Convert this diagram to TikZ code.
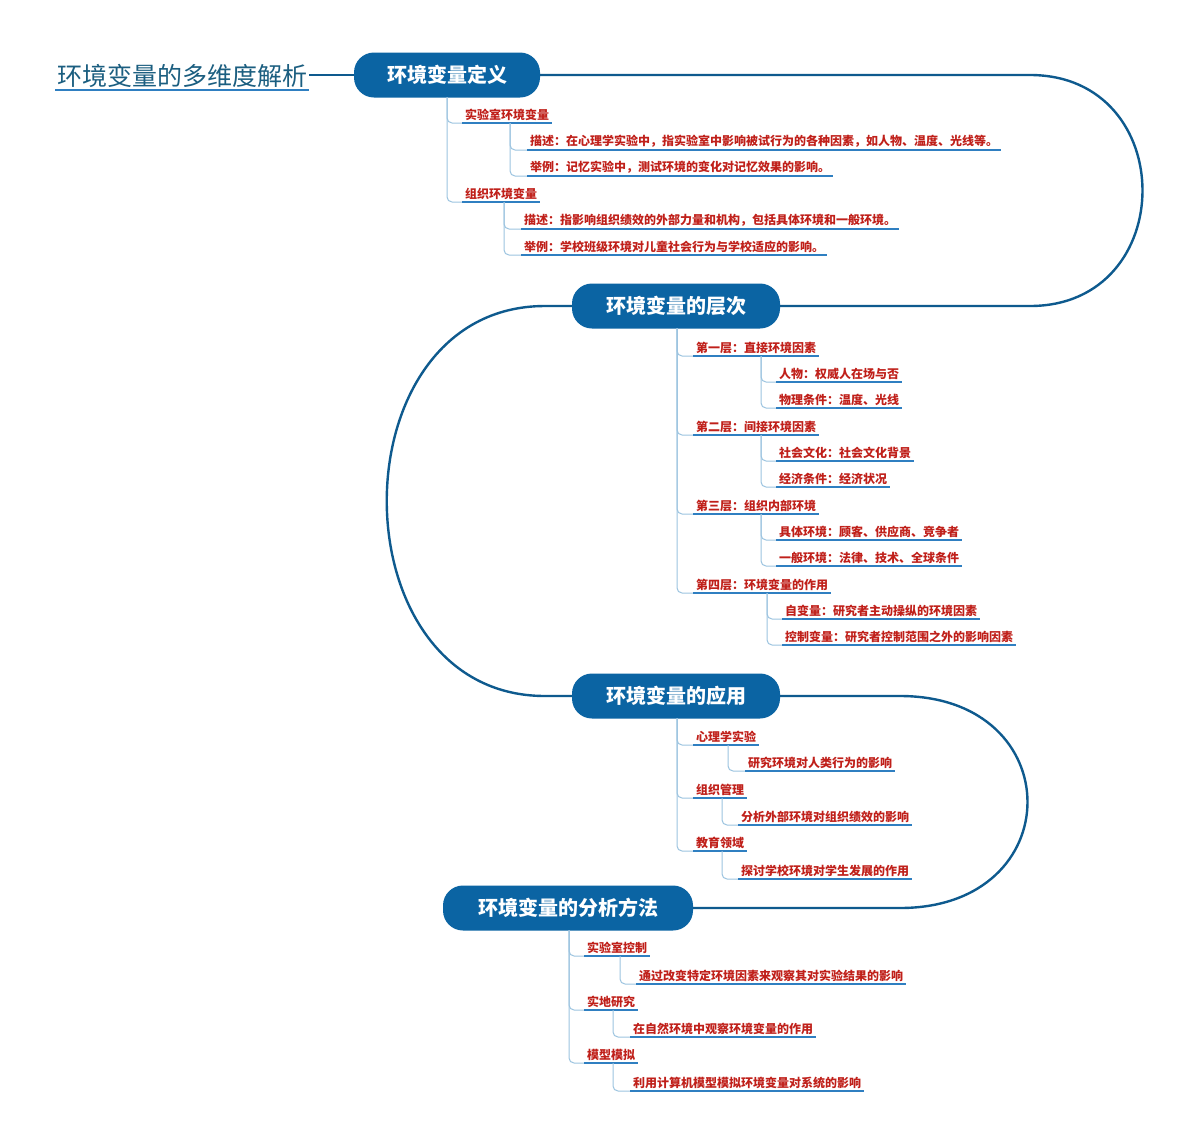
\documentclass[tikz,border=0pt]{standalone}
\usepackage{fontspec}
\newfontfamily\cjk{Noto Sans CJK SC}
\definecolor{mainblue}{HTML}{0B64A3}
\definecolor{linkblue}{HTML}{0E5A8E}
\definecolor{ulblue}{HTML}{2F7FC1}
\definecolor{connblue}{HTML}{9CC4E0}
\definecolor{leafred}{HTML}{C0201A}
\definecolor{titleteal}{HTML}{1B5E80}
\tikzset{
  mainbox/.style={fill=mainblue,text=white,rounded corners=20pt,minimum height=45pt,font=\cjk\bfseries\fontsize{20}{22}\selectfont,inner xsep=18pt},
  leaf/.style={anchor=south west,text=leafred,font=\cjk\bfseries\fontsize{12}{14}\selectfont,inner xsep=3pt,inner ysep=2pt},
  uline/.style={draw=ulblue,line width=1.8pt},
  conn/.style={draw=connblue,line width=1pt,rounded corners=5pt},
  link/.style={draw=linkblue,line width=2.4pt}
}
\newcommand\mmleaf[5]{%
  \node[leaf] (#1) at (#2,#3) {#4};
  \draw[conn] (#5) |- (#1.south west);
  \draw[uline] (#1.south west) -- (#1.south east);}
\begin{document}
\begin{tikzpicture}[x=1pt,y=-1pt]
\useasboundingbox (0,0) rectangle (1200,1144);
\fill[white] (0,0) rectangle (1200,1144);
% title
\node[text=titleteal,font=\cjk\fontsize{25}{28}\selectfont,inner sep=2pt,anchor=south west] (title) at (55,90) {环境变量的多维度解析};
\draw[ulblue,line width=1.5pt] (title.south west) -- (title.south east);
% main nodes
\node[mainbox,minimum width=186pt] (def) at (447,75) {环境变量定义};
\node[mainbox,minimum width=208pt] (lay) at (676,306) {环境变量的层次};
\node[mainbox,minimum width=208pt] (app) at (676,696) {环境变量的应用};
\node[mainbox,minimum width=250pt] (meth) at (568,908) {环境变量的分析方法};
% links
\draw[link] (title.east |- def.west) -- (def.west);
\draw[link] (def.east) -- (1030,75) .. controls (1180,75) and (1180,306) .. (1030,306) -- (lay.east);
\draw[link] (lay.west) -- (545,306) .. controls (334,306) and (334,696) .. (545,696) -- (app.west);
\draw[link] (app.east) -- (900,696) .. controls (1070,696) and (1070,908) .. (900,908) -- (meth.east);
% definition
\coordinate (c0) at (447,97);
\mmleaf{a1}{462}{123}{实验室环境变量}{c0}
\coordinate (c1) at (510,123);
\mmleaf{a11}{527}{150}{描述：在心理学实验中，指实验室中影响被试行为的各种因素，如人物、温度、光线等。}{c1}
\mmleaf{a12}{527}{176}{举例：记忆实验中，测试环境的变化对记忆效果的影响。}{c1}
\mmleaf{a2}{462}{202}{组织环境变量}{c0}
\coordinate (c2) at (504,202);
\mmleaf{a21}{521}{229}{描述：指影响组织绩效的外部力量和机构，包括具体环境和一般环境。}{c2}
\mmleaf{a22}{521}{255}{举例：学校班级环境对儿童社会行为与学校适应的影响。}{c2}
% layers
\coordinate (l0) at (677,328);
\mmleaf{b1}{693}{356}{第一层：直接环境因素}{l0}
\coordinate (l1) at (761,356);
\mmleaf{b11}{776}{382}{人物：权威人在场与否}{l1}
\mmleaf{b12}{776}{408}{物理条件：温度、光线}{l1}
\mmleaf{b2}{693}{435}{第二层：间接环境因素}{l0}
\coordinate (l2) at (761,435);
\mmleaf{b21}{776}{461}{社会文化：社会文化背景}{l2}
\mmleaf{b22}{776}{487}{经济条件：经济状况}{l2}
\mmleaf{b3}{693}{514}{第三层：组织内部环境}{l0}
\coordinate (l3) at (761,514);
\mmleaf{b31}{776}{540}{具体环境：顾客、供应商、竞争者}{l3}
\mmleaf{b32}{776}{566}{一般环境：法律、技术、全球条件}{l3}
\mmleaf{b4}{693}{593}{第四层：环境变量的作用}{l0}
\coordinate (l4) at (767,593);
\mmleaf{b41}{782}{619}{自变量：研究者主动操纵的环境因素}{l4}
\mmleaf{b42}{782}{645}{控制变量：研究者控制范围之外的影响因素}{l4}
% applications
\coordinate (p0) at (677,718);
\mmleaf{d1}{693}{745}{心理学实验}{p0}
\coordinate (p1) at (728,745);
\mmleaf{d11}{745}{771}{研究环境对人类行为的影响}{p1}
\mmleaf{d2}{693}{798}{组织管理}{p0}
\coordinate (p2) at (722,798);
\mmleaf{d21}{738}{825}{分析外部环境对组织绩效的影响}{p2}
\mmleaf{d3}{693}{851}{教育领域}{p0}
\coordinate (p3) at (722,851);
\mmleaf{d31}{738}{879}{探讨学校环境对学生发展的作用}{p3}
% methods
\coordinate (m0) at (569,930);
\mmleaf{e1}{584}{956}{实验室控制}{m0}
\coordinate (m1) at (620,956);
\mmleaf{e11}{636}{984}{通过改变特定环境因素来观察其对实验结果的影响}{m1}
\mmleaf{e2}{584}{1010}{实地研究}{m0}
\coordinate (m2) at (613,1010);
\mmleaf{e21}{630}{1037}{在自然环境中观察环境变量的作用}{m2}
\mmleaf{e3}{584}{1063}{模型模拟}{m0}
\coordinate (m3) at (613,1063);
\mmleaf{e31}{630}{1091}{利用计算机模型模拟环境变量对系统的影响}{m3}
\end{tikzpicture}
\end{document}
